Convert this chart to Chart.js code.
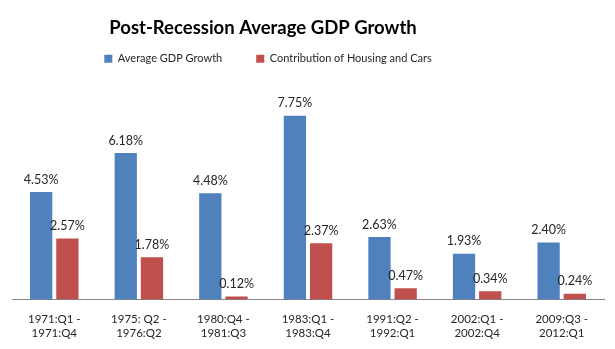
<!DOCTYPE html>
<html>
<head>
<meta charset="utf-8">
<script src="https://cdn.jsdelivr.net/npm/chart.js@4/dist/chart.umd.min.js"></script>
<style>
  html, body { margin: 0; padding: 0; background: #fff; }
  #wrap { width: 615px; height: 349px; }
</style>
</head>
<body>
<div id="wrap"><canvas id="c" width="615" height="349"></canvas></div>
<script>
// Recovery periods (two-line axis labels)
const periods = [
  ['1971:Q1 -', '1971:Q4'],
  ['1975: Q2 -', '1976:Q2'],
  ['1980:Q4 -', '1981:Q3'],
  ['1983:Q1 -', '1983:Q4'],
  ['1991:Q2 -', '1992:Q1'],
  ['2002:Q1 -', '2002:Q4'],
  ['2009:Q3 -', '2012:Q1']
];
// Average annualized GDP growth, percent
const avgGdpGrowth = [4.53, 6.18, 4.48, 7.75, 2.63, 1.93, 2.40];
// Contribution of housing and cars, percent
const housingCars = [2.57, 1.78, 0.12, 2.37, 0.47, 0.34, 0.24];

const FONT = 'Lato, "Open Sans", sans-serif';

// Writes each bar's value above it
const valueLabels = {
  id: 'valueLabels',
  afterDatasetsDraw(chart) {
    const ctx = chart.ctx;
    ctx.save();
    ctx.font = '12.5px ' + FONT;
    ctx.fillStyle = '#262626';
    ctx.textAlign = 'center';
    ctx.textBaseline = 'bottom';
    chart.data.datasets.forEach((ds, i) => {
      const meta = chart.getDatasetMeta(i);
      meta.data.forEach((bar, j) => {
        ctx.fillText(ds.data[j].toFixed(2) + '%', bar.x, bar.y - 6);
      });
    });
    ctx.restore();
  }
};

// Title and legend sit a little left of the page centre
const headerShift = {
  id: 'headerShift',
  afterLayout(chart) {
    if (chart.titleBlock) { chart.titleBlock.left -= 45; chart.titleBlock.right -= 45; }
    if (chart.legend) { chart.legend.left -= 40; chart.legend.right -= 40; }
  }
};

new Chart(document.getElementById('c'), {
  type: 'bar',
  data: {
    labels: periods,
    datasets: [
      {
        label: 'Average GDP Growth',
        data: avgGdpGrowth,
        backgroundColor: '#4F81BD',
        categoryPercentage: 0.62,
        barPercentage: 0.85
      },
      {
        label: 'Contribution of Housing and Cars',
        data: housingCars,
        backgroundColor: '#C0504D',
        categoryPercentage: 0.62,
        barPercentage: 0.85
      }
    ]
  },
  options: {
    responsive: false,
    animation: false,
    devicePixelRatio: 1,
    layout: { padding: { left: 12, right: 11, top: 8, bottom: 4 } },
    plugins: {
      title: {
        display: true,
        text: 'Post-Recession Average GDP Growth',
        color: '#000',
        font: { family: FONT, size: 18.5, weight: 'bold' },
        padding: { top: 9, bottom: -20 }
      },
      legend: {
        display: true,
        labels: {
          boxWidth: 8,
          boxHeight: 8,
          padding: 34,
          color: '#262626',
          font: { family: FONT, size: 11 }
        }
      },
      tooltip: { enabled: false }
    },
    scales: {
      x: {
        grid: { display: false },
        border: { display: true, color: '#868686', width: 1 },
        ticks: {
          color: '#262626',
          font: { family: FONT, size: 11.5 },
          padding: 5,
          maxRotation: 0,
          autoSkip: false
        }
      },
      y: {
        display: false,
        min: 0,
        max: 9.5
      }
    }
  },
  plugins: [valueLabels, headerShift]
});
</script>
</body>
</html>
